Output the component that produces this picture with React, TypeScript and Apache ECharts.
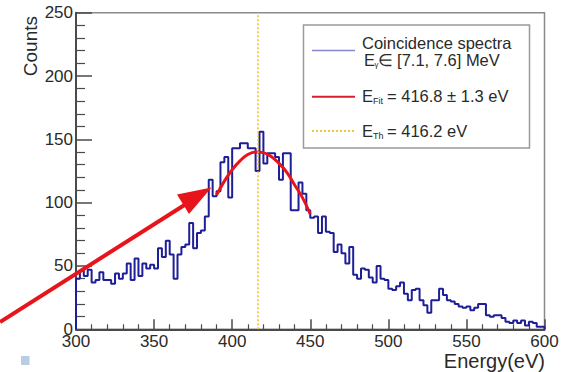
import React, { useEffect, useRef } from "react";
import * as echarts from "echarts";

// Histogram: 2.5 eV bins from 300 to 600 eV
const binStart = 300;
const binWidth = 2.5;
const counts = [
  40, 46, 42, 47, 37, 39, 45, 39, 39, 36, 44, 40, 44, 52, 39, 56, 42, 52, 48, 51,
  48, 64, 57, 70, 59, 40, 59, 65, 67, 84, 64, 76, 78, 89, 118, 105, 109, 132, 136, 104,
  143, 143, 147, 147, 143, 143, 125, 156, 131, 139, 139, 136, 118, 139, 139, 94, 94, 116, 107, 94,
  88, 89, 76, 89, 77, 76, 61, 67, 60, 52, 65, 43, 40, 48, 47, 41, 37, 50, 40, 39,
  32, 31, 34, 37, 28, 23, 31, 32, 23, 19, 13, 23, 23, 32, 27, 23, 22, 20, 18, 17,
  18, 15, 17, 20, 20, 11, 10, 11, 11, 9, 6, 5, 7, 5, 7, 3, 6, 5, 2, 2,
];

// Fit curve
const fitEnergy = [390, 395, 400, 405, 410, 415, 420, 425, 430, 435, 440, 445, 450];
const fitCounts = [106, 117, 126, 133, 138, 140, 139.5, 136.5, 131, 124, 114, 104, 91];

const thresholdEnergy = 416.2;

const xTicks = { min: 300, max: 600, interval: 50 };
const yTicks = { min: 0, max: 250, interval: 50 };

const FONT = "'Liberation Sans', Arial, sans-serif";
const LEG = 16.5;

export default function App() {
  const ref = useRef<HTMLDivElement>(null);

  useEffect(() => {
    if (!ref.current) return;
    const chart = echarts.init(ref.current, null, { renderer: "svg" });

    const histPoints: number[][] = [[binStart, 0]];
    counts.forEach((c, i) => histPoints.push([binStart + i * binWidth, c]));
    const binEnd = binStart + counts.length * binWidth;
    histPoints.push([binEnd, counts[counts.length - 1]]);
    histPoints.push([binEnd, 0]);

    const fitPoints = fitEnergy.map((e, i) => [e, fitCounts[i]]);

    const textColor = "#2a2a2a";

    chart.setOption({
      animation: false,
      backgroundColor: "#ffffff",
      grid: {
        left: 76,
        right: 19.5,
        top: 12.7,
        bottom: 42.7,
        show: true,
        borderColor: "#8a8a8a",
        borderWidth: 1.5,
        backgroundColor: "transparent",
      },
      xAxis: {
        type: "value",
        min: xTicks.min,
        max: xTicks.max,
        interval: xTicks.interval,
        axisLine: { show: true, onZero: false, lineStyle: { color: "#4a4a4a", width: 2 } },
        axisTick: { show: true, inside: true, length: 10, lineStyle: { color: "#4a4a4a", width: 1.5 } },
        minorTick: { show: true, splitNumber: 5, length: 5, lineStyle: { color: "#4a4a4a", width: 1.2 } },
        splitLine: { show: false },
        axisLabel: { color: textColor, fontSize: 17, lineHeight: 12, fontFamily: FONT, margin: 6 },
      },
      yAxis: {
        type: "value",
        min: yTicks.min,
        max: yTicks.max,
        interval: yTicks.interval,
        axisLine: { show: true, lineStyle: { color: "#4a4a4a", width: 2 } },
        axisTick: { show: true, inside: true, length: 16, lineStyle: { color: "#4a4a4a", width: 1.5 } },
        minorTick: { show: true, splitNumber: 5, length: 9, lineStyle: { color: "#4a4a4a", width: 1.2 } },
        splitLine: { show: false },
        axisLabel: { color: textColor, fontSize: 17, lineHeight: 12, fontFamily: FONT, margin: 3 },
      },
      series: [
        {
          type: "line",
          name: "Coincidence spectra",
          data: histPoints,
          step: "end",
          showSymbol: false,
          symbol: "none",
          silent: true,
          lineStyle: { color: "#1e1e96", width: 2 },
          markLine: {
            silent: true,
            symbol: ["none", "none"],
            label: { show: false },
            lineStyle: { color: "#f2bd1d", width: 1.5, type: [2, 2] },
            data: [{ xAxis: thresholdEnergy }],
          },
          z: 3,
        },
        {
          type: "line",
          name: "Fit",
          data: fitPoints,
          smooth: 0.4,
          showSymbol: false,
          symbol: "none",
          silent: true,
          lineStyle: { color: "#e8141c", width: 3 },
          z: 4,
        },
      ],
      graphic: [
        // Legend box
        {
          type: "rect",
          shape: { x: 303.5, y: 25, width: 226, height: 123 },
          style: { fill: "#ffffff", stroke: "#9a9a9a", lineWidth: 1.5 },
          z: 10,
        },
        {
          type: "line",
          shape: { x1: 312, y1: 50.5, x2: 355, y2: 50.5 },
          style: { stroke: "#8888cc", lineWidth: 1.5 },
          z: 11,
        },
        {
          type: "text",
          x: 362,
          y: 42.5,
          style: { text: "Coincidence spectra", fill: textColor, font: `${LEG}px ${FONT}`, verticalAlign: "middle" },
          z: 11,
        },
        {
          type: "text",
          x: 364,
          y: 59.5,
          style: { text: "E", fill: textColor, font: `${LEG}px ${FONT}`, verticalAlign: "middle" },
          z: 11,
        },
        {
          type: "text",
          x: 374.5,
          y: 64,
          style: { text: "γ", fill: textColor, font: `8px ${FONT}`, verticalAlign: "middle" },
          z: 11,
        },
        {
          type: "text",
          x: 377.5,
          y: 59.5,
          style: { text: "∈ [7.1, 7.6] MeV", fill: textColor, font: `${LEG}px ${FONT}`, verticalAlign: "middle" },
          z: 11,
        },
        {
          type: "line",
          shape: { x1: 312, y1: 96.7, x2: 355, y2: 96.7 },
          style: { stroke: "#d8202c", lineWidth: 2 },
          z: 11,
        },
        {
          type: "text",
          x: 362,
          y: 96,
          style: { text: "E", fill: textColor, font: `${LEG}px ${FONT}`, verticalAlign: "middle" },
          z: 11,
        },
        {
          type: "text",
          x: 373,
          y: 100.5,
          style: { text: "Fit", fill: textColor, font: `9px ${FONT}`, verticalAlign: "middle" },
          z: 11,
        },
        {
          type: "text",
          x: 387,
          y: 96,
          style: { text: "= 416.8 ± 1.3 eV", fill: textColor, font: `${LEG}px ${FONT}`, verticalAlign: "middle" },
          z: 11,
        },
        {
          type: "line",
          shape: { x1: 312, y1: 131, x2: 355, y2: 131 },
          style: { stroke: "#f2c53d", lineWidth: 2, lineDash: [2, 2] },
          z: 11,
        },
        {
          type: "text",
          x: 362,
          y: 131,
          style: { text: "E", fill: textColor, font: `${LEG}px ${FONT}`, verticalAlign: "middle" },
          z: 11,
        },
        {
          type: "text",
          x: 373,
          y: 135.5,
          style: { text: "Th", fill: textColor, font: `9px ${FONT}`, verticalAlign: "middle" },
          z: 11,
        },
        {
          type: "text",
          x: 387,
          y: 131,
          style: { text: "= 416.2 eV", fill: textColor, font: `${LEG}px ${FONT}`, verticalAlign: "middle" },
          z: 11,
        },
        // Axis titles
        {
          type: "text",
          x: 545,
          y: 360.5,
          style: { text: "Energy(eV)", fill: textColor, font: `20px ${FONT}`, align: "right", verticalAlign: "middle" },
          z: 11,
        },
        {
          type: "text",
          x: 30,
          y: 16,
          rotation: Math.PI / 2,
          style: { text: "Counts", fill: textColor, font: `19px ${FONT}`, align: "right", verticalAlign: "middle" },
          z: 11,
        },
        // Red annotation arrow
        {
          type: "line",
          shape: { x1: 0, y1: 322, x2: 190, y2: 201.5 },
          style: { stroke: "#e8141c", lineWidth: 4 },
          z: 12,
        },
        {
          type: "polygon",
          shape: { points: [[211.5, 187.5], [177, 194.5], [189, 214]] },
          style: { fill: "#e8141c" },
          z: 12,
        },
        // Small square
        {
          type: "rect",
          shape: { x: 21, y: 356, width: 8.5, height: 9 },
          style: { fill: "#b9cde0" },
          z: 12,
        },
      ],
    });

    return () => chart.dispose();
  }, []);

  return (
    <div
      ref={ref}
      style={{ position: "absolute", left: 0, top: 0, width: 564, height: 372 }}
    />
  );
}
